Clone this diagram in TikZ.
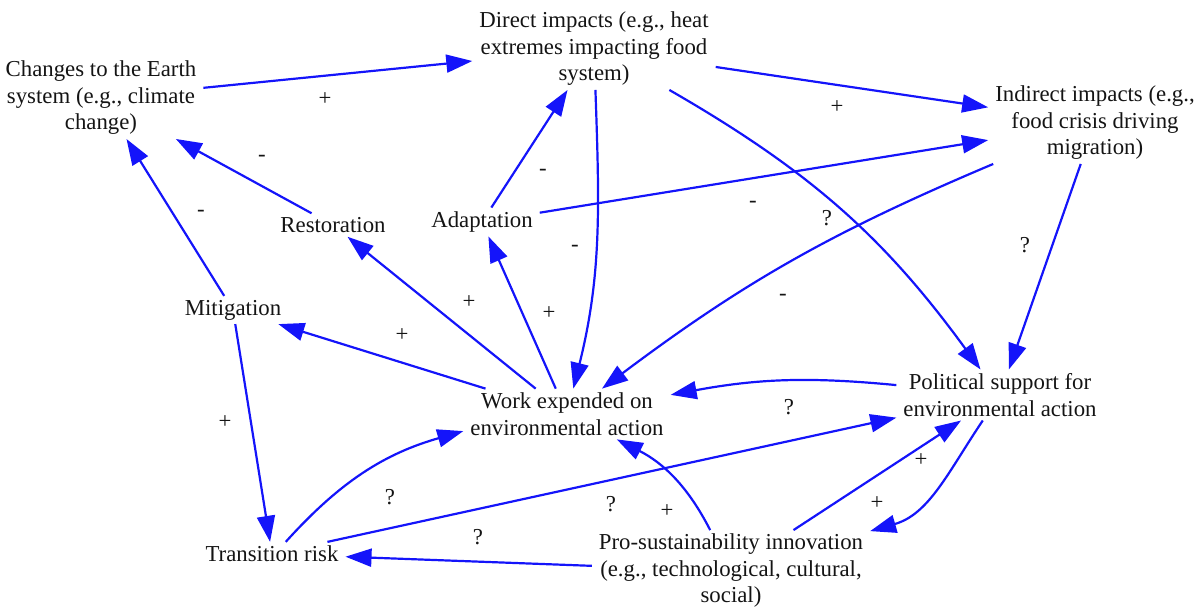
\documentclass[tikz,border=0pt]{standalone}
\usepackage{fontspec}
\setmainfont{Liberation Serif}
\usetikzlibrary{arrows.meta}
\definecolor{ink}{RGB}{20,20,20}
\definecolor{linkblue}{RGB}{20,20,250}

\begin{document}
\begin{tikzpicture}[x=1pt,y=-1pt,
  line width=2.2pt,
  factor node/.style={align=center,inner xsep=6pt,inner ysep=3pt,text=ink,font=\fontsize{22.8}{26.5}\selectfont},
  sign node/.style={inner sep=0pt,text=ink,font=\fontsize{22.8}{26.5}\selectfont}]

  \useasboundingbox (0,0) rectangle (1200,615);

  \node[factor node] (earth) at (101,98) {Changes to the Earth\\system (e.g., climate\\change)};
  \node[factor node] (direct) at (594,49) {Direct impacts (e.g., heat\\extremes impacting food\\system)};
  \node[factor node] (indirect) at (1095,123) {Indirect impacts (e.g.,\\food crisis driving\\migration)};
  \node[factor node] (restoration) at (333,225) {Restoration};
  \node[factor node] (adaptation) at (482,222) {Adaptation};
  \node[factor node] (mitigation) at (233,310) {Mitigation};
  \node[factor node] (work) at (567,414) {Work expended on\\environmental action};
  \node[factor node] (political) at (1000,395) {Political support for\\environmental action};
  \node[factor node] (transition) at (272,554) {Transition risk};
  \node[factor node] (innovation) at (731,571) {Pro-sustainability innovation\\(e.g., technological, cultural,\\social)};

  % signs of the links
  \node[sign node] (s1) at (325,99) {+};
  \node[sign node] (s2) at (837,107) {+};
  \node[sign node] (s3) at (262,158) {-};
  \node[sign node] (s4) at (201,213) {-};
  \node[sign node] (s5) at (543,172) {-};
  \node[sign node] (s6) at (753,204) {-};
  \node[sign node] (s7) at (575,248) {-};
  \node[sign node] (s8) at (827,218) {?};
  \node[sign node] (s9) at (783,297) {-};
  \node[sign node] (s10) at (1025,245) {?};
  \node[sign node] (s11) at (469,302) {+};
  \node[sign node] (s12) at (549,313) {+};
  \node[sign node] (s13) at (402,335) {+};
  \node[sign node] (s14) at (789,407) {?};
  \node[sign node] (s15) at (225,422) {+};
  \node[sign node] (s16) at (390,497) {?};
  \node[sign node] (s17) at (611,504) {?};
  \node[sign node] (s18) at (478,537) {?};
  \node[sign node] (s19) at (667,511) {+};
  \node[sign node] (s20) at (921,460) {+};
  \node[sign node] (s21) at (877,503) {+};

  \path[color=linkblue,-{Triangle[length=26pt,width=18pt]}]
    (earth) edge (direct)
    (direct) edge (indirect)
    (restoration) edge (earth)
    (mitigation) edge (earth)
    (adaptation) edge (direct)
    (adaptation) edge (indirect)
    (direct) edge[out=272,in=76] (work)
    (direct) edge[bend left=12] (political)
    (indirect) edge[bend right=7] (work)
    (indirect) edge (political)
    (work) edge (restoration)
    (work) edge (adaptation)
    (work) edge (mitigation)
    (political) edge[bend right=8] (work)
    (mitigation) edge (transition)
    (transition) edge[bend left=16] (work)
    (transition) edge (political)
    (innovation) edge (transition)
    (innovation) edge[out=117,in=-27] (work)
    (innovation) edge (political)
    (political) edge[out=236,in=16] (innovation);
\end{tikzpicture}
\end{document}
